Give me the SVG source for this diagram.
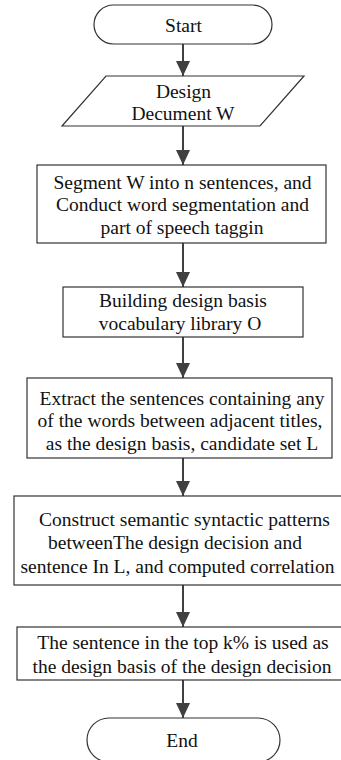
<svg xmlns="http://www.w3.org/2000/svg" width="341" height="760" viewBox="0 0 341 760">
  <defs>
    <marker id="arrow" viewBox="0 0 15 14" refX="15" refY="7" markerWidth="15" markerHeight="14" markerUnits="userSpaceOnUse" orient="auto">
      <path d="M0,0 L15,7 L0,14 Z" fill="#404040"/>
    </marker>
    <style>
      .shape { fill: #ffffff; stroke: #333333; stroke-width: 1.2; }
      .label { font-family: "Liberation Serif", "Times New Roman", serif; font-size: 19.5px; fill: #111111; text-anchor: middle; dominant-baseline: central; }
      .edge { stroke: #404040; stroke-width: 2; fill: none; marker-end: url(#arrow); }
    </style>
  </defs>
  <rect width="341" height="760" fill="#ffffff"/>

  <g id="connectors">
    <line class="edge" x1="183" y1="44" x2="183" y2="76"/>
    <line class="edge" x1="183" y1="126" x2="183" y2="165"/>
    <line class="edge" x1="183" y1="243" x2="183" y2="287"/>
    <line class="edge" x1="183" y1="337" x2="183" y2="378"/>
    <line class="edge" x1="183" y1="458" x2="183" y2="496"/>
    <line class="edge" x1="183" y1="585" x2="183" y2="627"/>
    <line class="edge" x1="183" y1="680" x2="183" y2="718"/>
  </g>

  <g id="start">
    <rect class="shape" x="94" y="5" width="178" height="39" rx="19.5" ry="19.5"/>
    <text class="label" x="183.5" y="25">Start</text>
  </g>

  <g id="input-document">
    <polygon class="shape" points="106,76 304,76 260,126 62,126"/>
    <text class="label" x="183.5" y="91">Design</text>
    <text class="label" x="183" y="113">Decument W</text>
  </g>

  <g id="segment">
    <rect class="shape" x="37" y="165" width="289" height="78"/>
    <text class="label" x="182.5" y="182">Segment W into n sentences, and</text>
    <text class="label" x="182.5" y="204.5">Conduct word segmentation and</text>
    <text class="label" x="182" y="227">part of speech taggin</text>
  </g>

  <g id="vocabulary">
    <rect class="shape" x="63" y="287" width="240" height="50"/>
    <text class="label" x="183" y="300.5">Building design basis</text>
    <text class="label" x="180" y="323">vocabulary library O</text>
  </g>

  <g id="extract">
    <rect class="shape" x="27" y="378" width="305" height="80"/>
    <text class="label" x="182" y="398">Extract the sentences containing any</text>
    <text class="label" x="180" y="420.5">of the words between adjacent titles,</text>
    <text class="label" x="182" y="443">as the design basis, candidate set L</text>
  </g>

  <g id="patterns">
    <rect class="shape" x="14" y="496" width="338" height="89"/>
    <text class="label" x="184.5" y="519">Construct semantic syntactic patterns</text>
    <text class="label" x="175" y="542.5">betweenThe design decision and</text>
    <text class="label" x="177.5" y="566">sentence In L, and computed correlation</text>
  </g>

  <g id="select">
    <rect class="shape" x="17" y="627" width="332" height="53"/>
    <text class="label" x="183" y="642">The sentence in the top k% is used as</text>
    <text class="label" x="182" y="666">the design basis of the design decision</text>
  </g>

  <g id="end">
    <rect class="shape" x="87" y="718" width="193" height="44" rx="22" ry="22"/>
    <text class="label" x="182" y="740">End</text>
  </g>
</svg>
